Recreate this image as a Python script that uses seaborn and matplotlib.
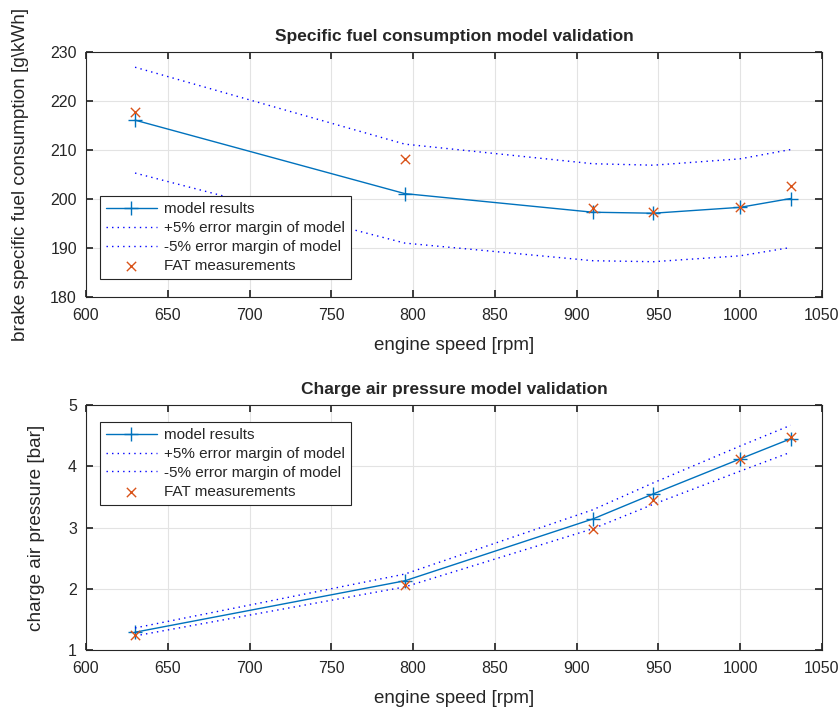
import matplotlib
matplotlib.use("Agg")
import matplotlib.pyplot as plt
import seaborn as sns
import pandas as pd

# ---- data ----
rpm = [630, 795, 910, 947, 1000, 1031]

bsfc_model = [216.1, 201.1, 197.3, 197.1, 198.3, 200.1]
bsfc_plus5 = [226.9, 211.2, 207.2, 206.9, 208.2, 210.1]
bsfc_minus5 = [205.3, 191.0, 187.4, 187.2, 188.4, 190.1]
bsfc_fat = [217.8, 208.2, 198.1, 197.4, 198.3, 202.7]

cap_model = [1.29, 2.13, 3.14, 3.55, 4.12, 4.45]
cap_plus5 = [1.36, 2.24, 3.29, 3.73, 4.33, 4.67]
cap_minus5 = [1.23, 2.03, 2.98, 3.38, 3.92, 4.23]
cap_fat = [1.25, 2.06, 2.98, 3.45, 4.12, 4.48]

x_ticks = [600, 650, 700, 750, 800, 850, 900, 950, 1000, 1050]
bsfc_ticks = [180, 190, 200, 210, 220, 230]
cap_ticks = [1, 2, 3, 4, 5]

labels = ["model results", "+5% error margin of model",
          "-5% error margin of model", "FAT measurements"]

sns.set_theme(style="whitegrid")
plt.rcParams["font.family"] = ["Liberation Sans", "DejaVu Sans"]

fig = plt.figure(figsize=(8.39, 7.12), dpi=100)
ax1 = fig.add_axes([0.1025, 0.5829, 0.877, 0.344])
ax2 = fig.add_axes([0.1025, 0.0871, 0.877, 0.344])

C_MODEL = "#0072BD"
C_FAT = "#D95319"


def draw(ax, model, plus, minus, fat, yticks, ylabel, title, legloc, anchor,
         ylab_x):
    df = pd.DataFrame({"rpm": rpm, "model": model, "plus": plus,
                       "minus": minus, "fat": fat})
    sns.lineplot(data=df, x="rpm", y="model", ax=ax, color=C_MODEL, lw=1.0,
                 marker="+", markersize=10, markeredgewidth=1.0,
                 markeredgecolor=C_MODEL, label=labels[0])
    sns.lineplot(data=df, x="rpm", y="plus", ax=ax, color="#0000FF", lw=1.0,
                 linestyle=(0, (1, 3)), label=labels[1])
    sns.lineplot(data=df, x="rpm", y="minus", ax=ax, color="#0000FF", lw=1.0,
                 linestyle=(0, (1, 3)), label=labels[2])
    sns.scatterplot(data=df, x="rpm", y="fat", ax=ax, color=C_FAT, marker="x",
                    s=45, linewidth=1.0, label=labels[3], zorder=5)
    ax.set_xlim(600, 1050)
    ax.set_ylim(yticks[0], yticks[-1])
    ax.set_xticks(x_ticks)
    ax.set_yticks(yticks)
    ax.tick_params(axis="both", labelsize=11.5, direction="in", length=5,
                   top=True, right=True, bottom=True, left=True,
                   color="#262626")
    ax.tick_params(axis="y", pad=6.5)
    ax.tick_params(axis="x", pad=8)
    ax.grid(True, color="#E3E3E3", lw=0.8)
    for sp in ax.spines.values():
        sp.set_visible(True)
        sp.set_color("#262626")
        sp.set_linewidth(0.8)
    ax.set_facecolor("white")
    ax.set_xlabel("engine speed [rpm]", fontsize=13.5, labelpad=10)
    ax.set_ylabel(ylabel, fontsize=13.7)
    ax.yaxis.set_label_coords(ylab_x, 0.5)
    ax.set_title(title, fontsize=12.5, fontweight="bold", pad=8)
    leg = ax.legend(loc=legloc, bbox_to_anchor=anchor, borderaxespad=0,
                    fontsize=11, frameon=True, fancybox=False,
                    edgecolor="#262626", framealpha=1, handlelength=3.3,
                    handletextpad=0.5, labelspacing=0.32, borderpad=0.4,
                    numpoints=1)
    leg.get_frame().set_linewidth(0.8)


draw(ax1, bsfc_model, bsfc_plus5, bsfc_minus5, bsfc_fat, bsfc_ticks,
     "brake specific fuel consumption [g\\kWh]",
     "Specific fuel consumption model validation", "lower left",
     (0.019, 0.073), -0.0775)
draw(ax2, cap_model, cap_plus5, cap_minus5, cap_fat, cap_ticks,
     "charge air pressure [bar]",
     "Charge air pressure model validation", "upper left",
     (0.019, 0.931), -0.0557)

fig.savefig("out.png", dpi=100, facecolor="white")
